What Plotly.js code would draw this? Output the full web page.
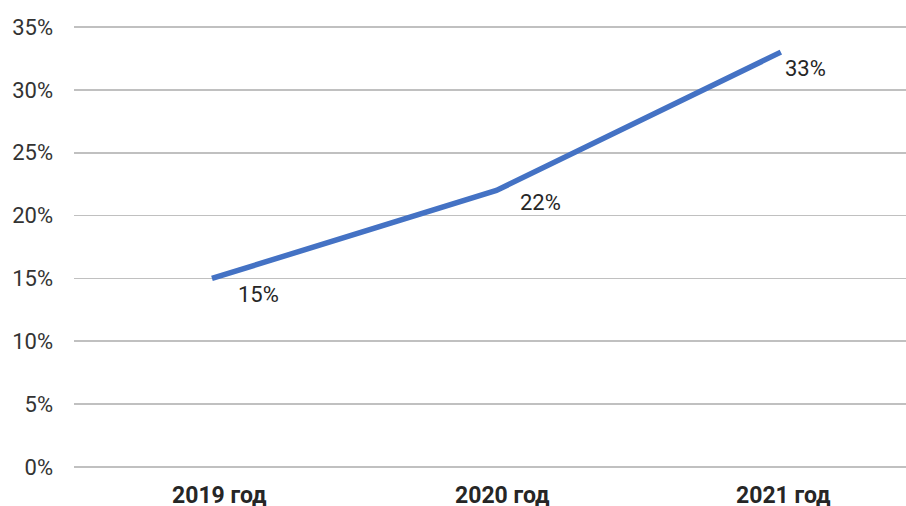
<!DOCTYPE html>
<html>
<head>
<meta charset="utf-8">
<script src="https://cdn.plot.ly/plotly-3.0.1.min.js"></script>
<style>html,body{margin:0;padding:0;background:#fff;}#chart{width:906px;height:506px;}</style>
</head>
<body>
<div id="chart"></div>
<script>
const categories = ["2019 год", "2020 год", "2021 год"];
const values = [0.15, 0.22, 0.33];
const labels = ["15%", "22%", "33%"];
const yTickVals = [0, 0.05, 0.10, 0.15, 0.20, 0.25, 0.30, 0.35];
const yTickText = ["0%", "5%", "10%", "15%", "20%", "25%", "30%", "35%"];

// label placement (style only)
const labelDx = [47, 44, 25];
const labelDy = [-16, -12, -16];
const catLabelDx = [8, 6, 3];

const trace = {
  x: categories,
  y: values,
  type: "scatter",
  mode: "lines",
  line: {color: "#4472C4", width: 5.5, shape: "linear"},
  hoverinfo: "skip",
  cliponaxis: false
};

const dataLabels = categories.map((c, i) => ({
  x: c, y: values[i], xref: "x", yref: "y",
  text: labels[i], showarrow: false,
  xanchor: "center", yanchor: "middle",
  xshift: labelDx[i], yshift: labelDy[i],
  font: {family: "Roboto, sans-serif", size: 22, color: "#262626"}
}));

const catLabels = categories.map((c, i) => ({
  x: c, y: 0, xref: "x", yref: "paper",
  text: "<b>" + c + "</b>", showarrow: false,
  xanchor: "center", yanchor: "top",
  xshift: catLabelDx[i], yshift: -9,
  font: {family: "Roboto, sans-serif", size: 23, color: "#262626"}
}));

const layout = {
  width: 906,
  height: 506,
  margin: {l: 74, r: 0, t: 23, b: 35},
  paper_bgcolor: "#ffffff",
  plot_bgcolor: "#ffffff",
  showlegend: false,
  annotations: dataLabels.concat(catLabels),
  xaxis: {
    type: "category",
    range: [-0.485, 2.44],
    showgrid: false,
    zeroline: false,
    showline: false,
    ticks: "",
    showticklabels: false
  },
  yaxis: {
    range: [-0.00318, 0.35318],
    tickvals: yTickVals,
    ticktext: yTickText,
    showgrid: true,
    gridcolor: "#c0c0c0",
    gridwidth: 1.6,
    zeroline: false,
    showline: false,
    ticks: "",
    tickfont: {family: "Roboto, sans-serif", size: 22, color: "#333333"},
    ticklabelstandoff: 20
  }
};

Plotly.newPlot("chart", [trace], layout, {displayModeBar: false, staticPlot: true});
</script>
</body>
</html>
